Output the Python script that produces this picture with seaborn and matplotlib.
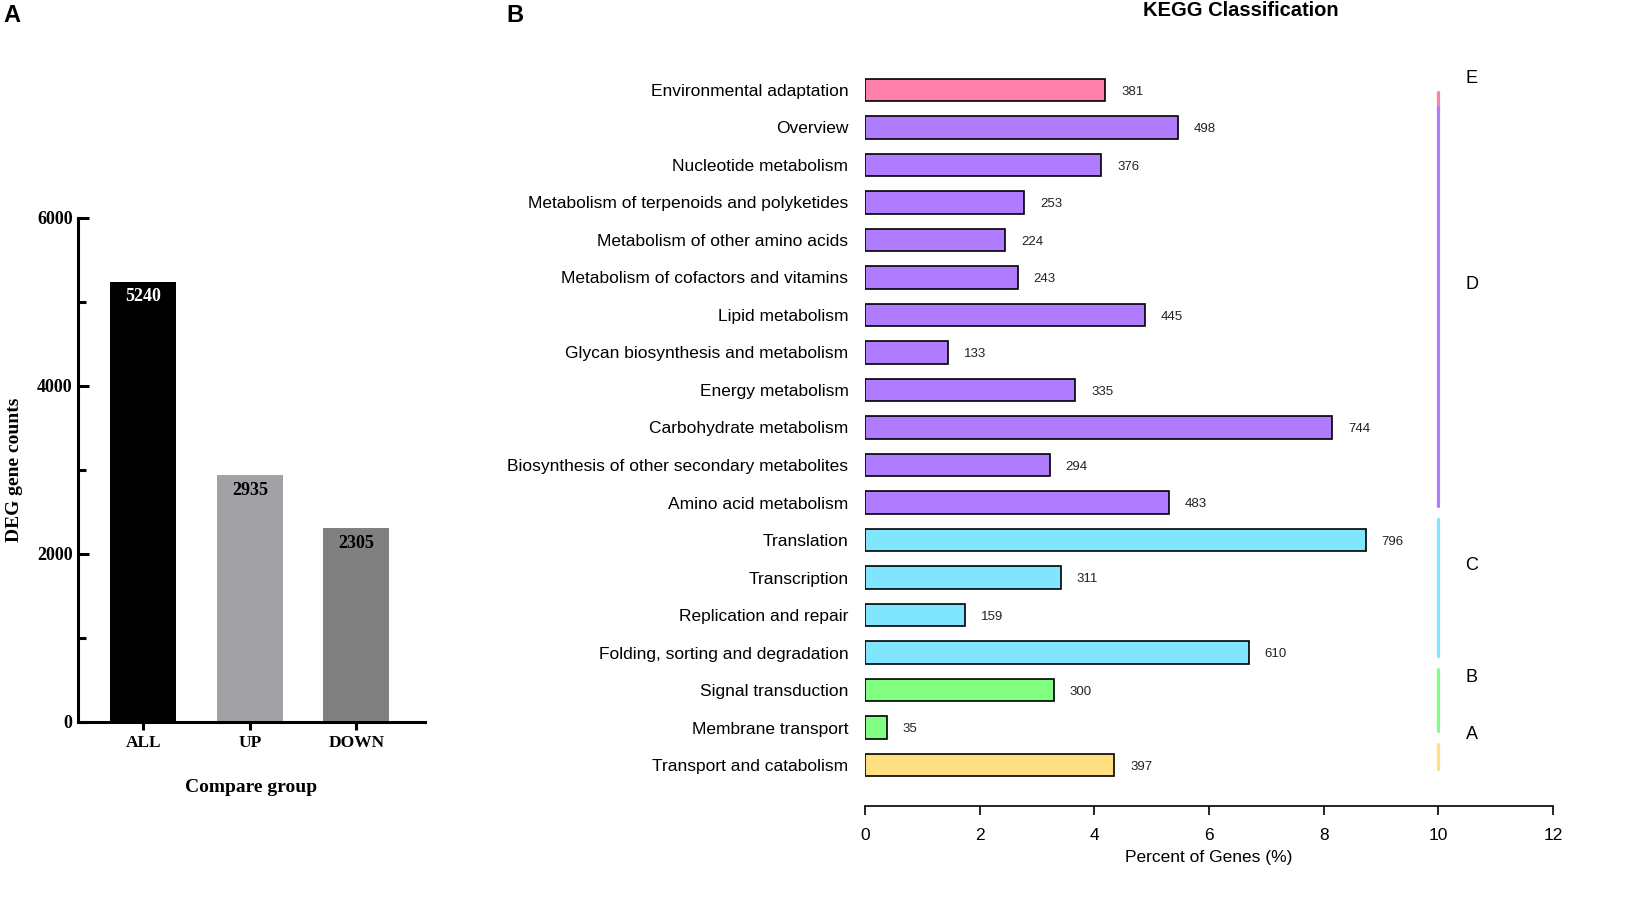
import numpy as np
import pandas as pd
import matplotlib
matplotlib.use('Agg')
import matplotlib.pyplot as plt
import seaborn as sns
from matplotlib.ticker import MultipleLocator

# panel A data
groups = ['ALL', 'UP', 'DOWN']
deg_counts = [5240, 2935, 2305]
deg_colors = ['#000000', '#A2A2A6', '#808080']

# panel B data
terms = ['Environmental adaptation', 'Overview', 'Nucleotide metabolism',
         'Metabolism of terpenoids and polyketides', 'Metabolism of other amino acids',
         'Metabolism of cofactors and vitamins', 'Lipid metabolism',
         'Glycan biosynthesis and metabolism', 'Energy metabolism',
         'Carbohydrate metabolism', 'Biosynthesis of other secondary metabolites',
         'Amino acid metabolism', 'Translation', 'Transcription',
         'Replication and repair', 'Folding, sorting and degradation',
         'Signal transduction', 'Membrane transport', 'Transport and catabolism']
gene_counts = [381, 498, 376, 253, 224, 243, 445, 133, 335, 744, 294, 483,
               796, 311, 159, 610, 300, 35, 397]
percents = [4.19, 5.46, 4.12, 2.77, 2.44, 2.66, 4.88, 1.45, 3.67, 8.15, 3.22, 5.30,
            8.73, 3.41, 1.74, 6.69, 3.29, 0.38, 4.35]
term_group = ['E'] + ['D'] * 11 + ['C'] * 4 + ['B'] * 2 + ['A']
group_colors = {'E': '#FF80AA', 'D': '#B07CFF', 'C': '#80E6FF', 'B': '#80FF80', 'A': '#FFE080'}

kegg = pd.DataFrame({'term': terms, 'pct': percents, 'n': gene_counts, 'group': term_group})

plt.rcParams['font.family'] = ['Liberation Sans', 'DejaVu Sans']
fig = plt.figure(figsize=(16.27, 9.08), dpi=100)

## Panel A
serif = ['Liberation Serif', 'DejaVu Serif']
axA = fig.add_axes([0.048, 0.205, 0.213, 0.555])
sns.barplot(x=groups, y=deg_counts, hue=groups, palette=deg_colors, legend=False,
            width=0.62, saturation=1, ax=axA)
axA.set_ylim(0, 6000)
axA.set_xlim(-0.61, 2.64)
axA.yaxis.set_major_locator(MultipleLocator(2000))
axA.yaxis.set_minor_locator(MultipleLocator(1000))
for s in ['top', 'right']:
    axA.spines[s].set_visible(False)
for s in ['left', 'bottom']:
    axA.spines[s].set_linewidth(2.2)
axA.tick_params(axis='x', which='major', width=2.2, length=6, direction='out')
axA.tick_params(axis='y', which='major', width=2.2, length=8, direction='in', pad=4)
axA.tick_params(axis='y', which='minor', width=2.2, length=6, direction='in')
for lab in axA.get_yticklabels():
    lab.set_fontfamily(serif)
    lab.set_fontweight('bold')
    lab.set_fontsize(13)
for lab in axA.get_xticklabels():
    lab.set_fontfamily(serif)
    lab.set_fontweight('bold')
    lab.set_fontsize(12.5)
axA.set_xlabel('Compare group', fontfamily=serif, fontweight='bold', fontsize=14, labelpad=20)
axA.set_ylabel('DEG gene counts', fontfamily=serif, fontweight='bold', fontsize=14, labelpad=10)
for i, v in enumerate(deg_counts):
    axA.text(i, v - 80, str(v), ha='center', va='top', fontfamily=serif,
             fontweight='bold', fontsize=13, color='white' if i == 0 else 'black')

## Panel B
axB = fig.add_axes([0.5317, 0.112, 0.4228, 0.822])
sns.barplot(data=kegg, x='pct', y='term', hue='group', order=terms,
            palette=group_colors, dodge=False, legend=False, width=0.6,
            saturation=1, edgecolor='black', linewidth=1.2, ax=axB)
axB.set_xlim(0, 12)
axB.set_ylim(19.1, -0.8)
axB.set_xticks(range(0, 13, 2))
for s in ['top', 'right', 'left']:
    axB.spines[s].set_visible(False)
axB.spines['bottom'].set_linewidth(1.2)
axB.tick_params(axis='x', length=6.5, width=1.2, labelsize=12.5, pad=9)
axB.tick_params(axis='y', length=0, pad=12, labelsize=12.5)
axB.set_ylabel('')
axB.set_xlabel('Percent of Genes (%)', fontsize=12.5, labelpad=5)
for i, (p, n) in enumerate(zip(percents, gene_counts)):
    axB.text(p + 0.28, i + 0.05, str(n), va='center', ha='left', fontsize=9.5, color='#222222')

# category bars at x = 10
for g in ['E', 'D', 'C', 'B', 'A']:
    rows = [i for i, t in enumerate(term_group) if t == g]
    start = max(rows[0] - 0.55, 0.05)
    end = rows[-1] + 0.1
    if end - start < 0.5:
        end = start + 0.48
    axB.plot([10, 10], [start, end], color=group_colors[g], lw=2.3,
             solid_capstyle='round', clip_on=False)
    axB.text(10.58, (start + end) / 2 - 0.6, g, ha='center', va='center', fontsize=13)

fig.text(1241 / 1627, 1 - 11 / 908, 'KEGG Classification', fontsize=14.5,
         fontweight='bold', ha='center', va='center')

fig.text(0.002, 0.983, 'A', fontsize=17, fontweight='bold', ha='left', va='center')
fig.text(0.311, 0.983, 'B', fontsize=17, fontweight='bold', ha='left', va='center')

fig.savefig('out.png', dpi=100)
